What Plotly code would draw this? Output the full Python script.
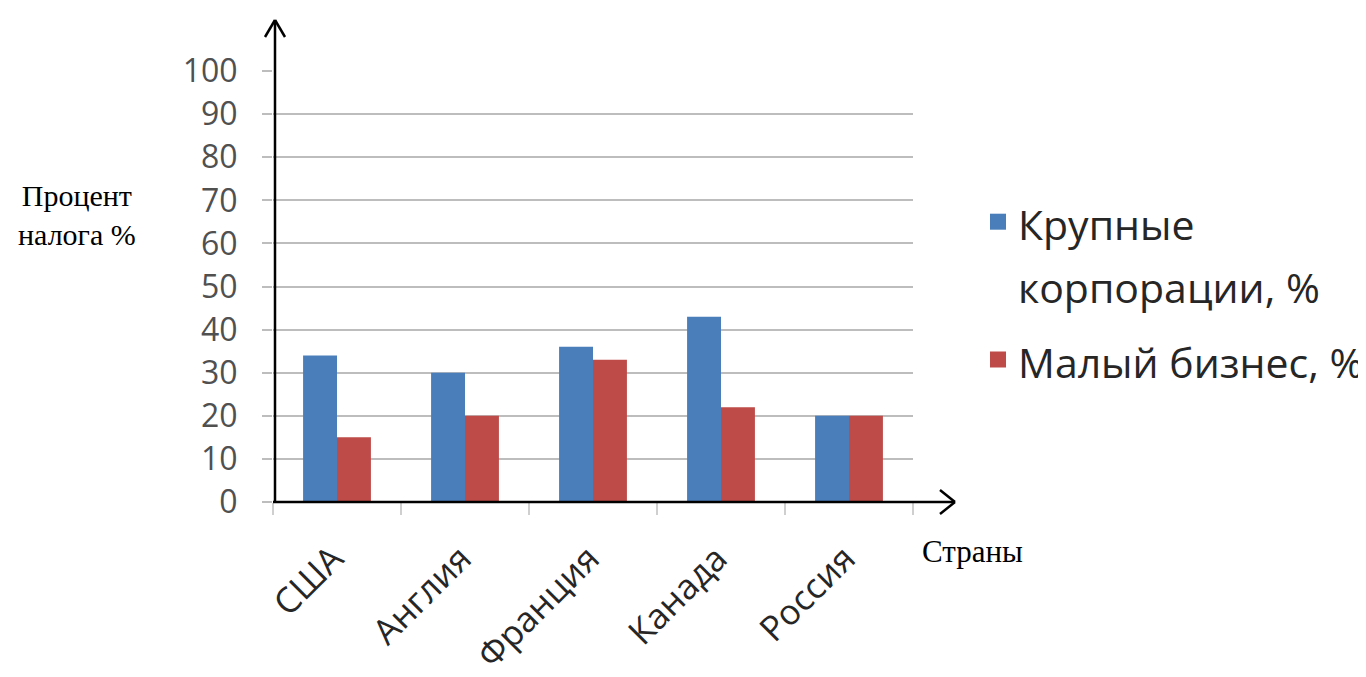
import plotly.graph_objects as go

countries = ["США", "Англия", "Франция", "Канада", "Россия"]
large_corp = [34, 30, 36, 43, 20]
small_biz = [15, 20, 33, 22, 20]
series_names = ["Крупные<br>корпорации, %", "Малый бизнес, %"]
y_ticks = [0, 10, 20, 30, 40, 50, 60, 70, 80, 90, 100]

BLUE = "#4a7ebb"
RED = "#be4b48"
GRID = "#bdbdbd"
W, H = 1366, 677
L, R, T, B = 265, 461, 63, 183
PW, PH = W - L - R, H - T - B
OFF = 8  # page offset of the plot in the browser


def px(x):
    return (x - OFF - L) / PW


def py(y):
    return (H - B - (y - OFF)) / PH


def leg_text(name, size=41):
    return "<br>".join(f"<span style='font-size:{size}px'>{part}</span>" for part in name.split("<br>"))


fig = go.Figure()
for vals, name, color, grp in [(large_corp, series_names[0], BLUE, "a"), (small_biz, series_names[1], RED, "b")]:
    fig.add_trace(go.Bar(x=countries, y=vals, name=leg_text(name), marker=dict(color=color, line=dict(width=0)),
                         legendgroup=grp, showlegend=False))
    fig.add_trace(go.Scatter(x=[None], y=[None], mode="markers", name=leg_text(name), legendgroup=grp,
                             marker=dict(symbol="square", size=16, color=color), showlegend=True))

line_style = dict(color="black", width=2.5)
shapes = [
    dict(type="line", xref="paper", yref="paper", x0=px(275), x1=px(275), y0=py(502), y1=py(20), line=line_style),
    dict(type="line", xref="paper", yref="paper", x0=px(265), x1=px(275), y0=py(37), y1=py(20), line=line_style),
    dict(type="line", xref="paper", yref="paper", x0=px(285), x1=px(275), y0=py(37), y1=py(20), line=line_style),
    dict(type="line", xref="paper", yref="paper", x0=px(273), x1=px(955), y0=py(502), y1=py(502), line=line_style),
    dict(type="line", xref="paper", yref="paper", x0=px(940), x1=px(955), y0=py(490), y1=py(502), line=line_style),
    dict(type="line", xref="paper", yref="paper", x0=px(940), x1=px(955), y0=py(514), y1=py(502), line=line_style),
]

annotations = [
    dict(text="Процент<br>налога %", xref="paper", yref="paper", x=px(77), y=py(215), showarrow=False,
         align="center", xanchor="center", yanchor="middle",
         font=dict(family="Liberation Serif", size=30, color="black")),
    dict(text="Страны", xref="paper", yref="paper", x=px(972), y=py(551), showarrow=False,
         xanchor="center", yanchor="middle",
         font=dict(family="Liberation Serif", size=31, color="black")),
]

fig.update_layout(
    width=W, height=H, autosize=False,
    margin=dict(l=L, r=R, t=T, b=B, autoexpand=False),
    paper_bgcolor="white", plot_bgcolor="white",
    barmode="group", bargap=0.47, bargroupgap=0,
    font=dict(family="Open Sans", color="#404040"),
    showlegend=True,
    legend=dict(x=px(978), y=py(184), xanchor="left", yanchor="top",
                font=dict(family="Open Sans", size=48, color="#262626"),
                valign="top", bgcolor="rgba(0,0,0,0)"),
    shapes=shapes,
    annotations=annotations,
    xaxis=dict(type="category", showgrid=False, showline=False, zeroline=False, automargin=False,
               ticks="outside", tickson="boundaries", ticklen=12, tickcolor="#cfcfcf", tickwidth=2,
               tickangle=-45, ticklabelstandoff=28, ticklabelshift=-4,
               tickfont=dict(family="Open Sans", size=35, color="#262626")),
    yaxis=dict(range=[0, 100], tickvals=y_ticks, showgrid=True, gridcolor=GRID, gridwidth=2, automargin=False,
               zeroline=False, showline=False, ticks="outside", ticklen=10, tickcolor=GRID, tickwidth=2,
               ticklabelstandoff=18, tickfont=dict(family="Open Sans", size=32, color="#505050")),
)

fig.write_html("out.html")
